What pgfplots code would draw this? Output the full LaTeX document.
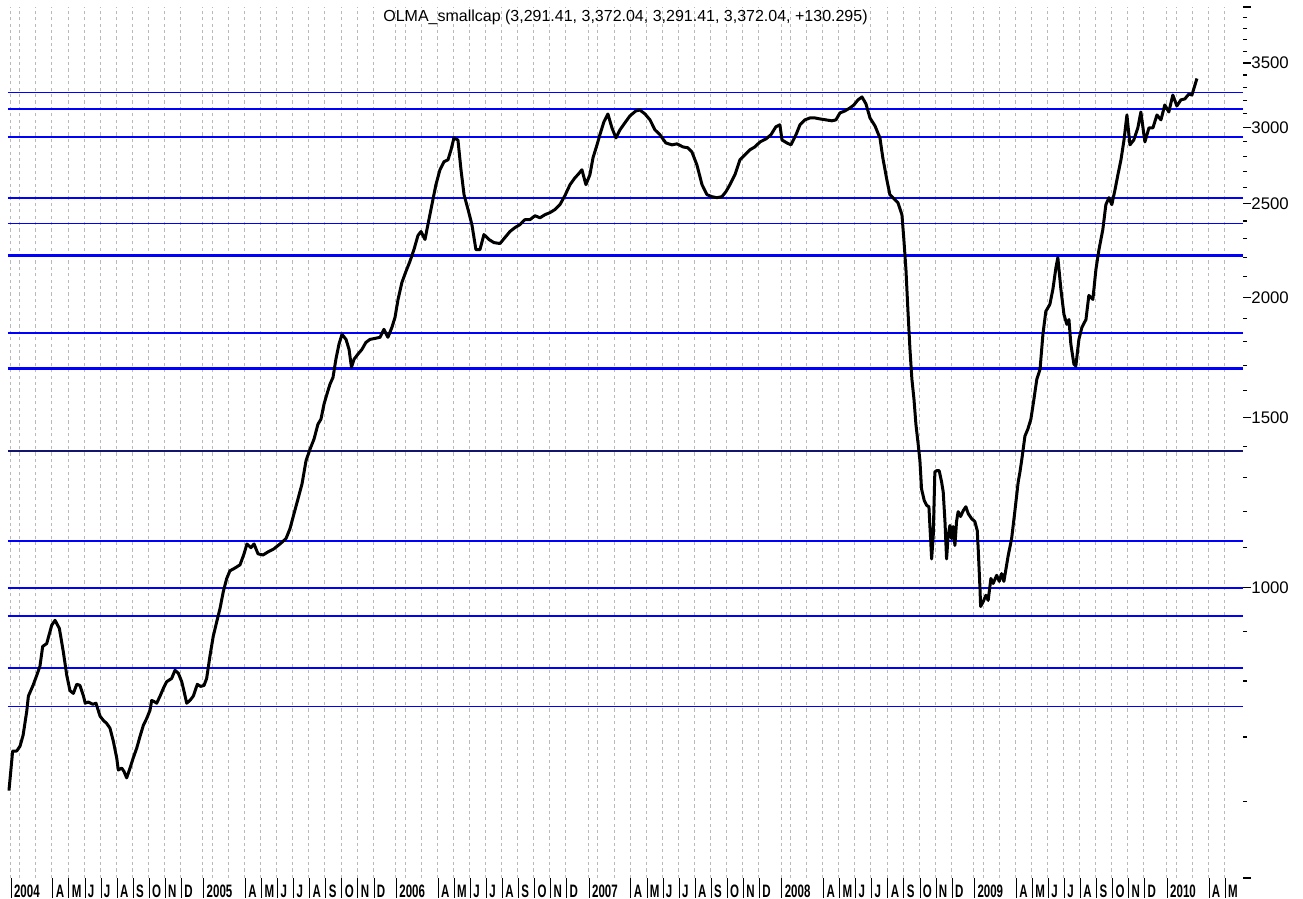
\documentclass[border=0pt]{standalone}
\usepackage{pgfplots}
\pgfplotsset{compat=1.18}
\usepackage{fontspec}
\setmainfont{Liberation Sans}
\newfontfamily\xlabfont[FakeStretch=0.64]{Liberation Sans}
\newcommand\xl[1]{\rule{0.5pt}{10pt}\hspace{1.2pt}#1}
\definecolor{gridgray}{RGB}{185,185,185}
\definecolor{darkline}{RGB}{20,20,110}
\begin{document}
\begin{tikzpicture}
\begin{axis}[
  at={(0,0)}, anchor=south west,
  scale only axis, width=617.5pt, height=435.5pt,
  xmin=0.26, xmax=77.17,
  ymode=log, ymin=500, ymax=4000,
  axis x line*=bottom, axis y line*=right,
  axis line style={draw=none},
  tick align=outside,
  major tick length=4pt, minor tick length=2pt,
  tick style={black, line width=0.6pt},
  xtick style={draw=none},
  xtick={0.4,3,4,5,6,7,8,9,10,11,
         12.4,15,16,17,18,19,20,21,22,23,
         24.4,27,28,29,30,31,32,33,34,35,
         36.4,39,40,41,42,43,44,45,46,47,
         48.4,51,52,53,54,55,56,57,58,59,
         60.4,63,64,65,66,67,68,69,70,71,
         72.4,75,76},
  xticklabels={\xl{2004},\xl{A},\xl{M},\xl{J},\xl{J},\xl{A},\xl{S},\xl{O},\xl{N},\xl{D},
               \xl{2005},\xl{A},\xl{M},\xl{J},\xl{J},\xl{A},\xl{S},\xl{O},\xl{N},\xl{D},
               \xl{2006},\xl{A},\xl{M},\xl{J},\xl{J},\xl{A},\xl{S},\xl{O},\xl{N},\xl{D},
               \xl{2007},\xl{A},\xl{M},\xl{J},\xl{J},\xl{A},\xl{S},\xl{O},\xl{N},\xl{D},
               \xl{2008},\xl{A},\xl{M},\xl{J},\xl{J},\xl{A},\xl{S},\xl{O},\xl{N},\xl{D},
               \xl{2009},\xl{A},\xl{M},\xl{J},\xl{J},\xl{A},\xl{S},\xl{O},\xl{N},\xl{D},
               \xl{2010},\xl{A},\xl{M}},
  minor xtick={1,2,13,14,25,26,37,38,49,50,61,62,73,74},
  xticklabel style={font=\xlabfont\bfseries\fontsize{9pt}{10pt}\selectfont, anchor=base west, inner sep=0pt, yshift=-6.0pt},
  xmajorgrids, xminorgrids,
  major grid style={gridgray, line width=0.5pt, dash pattern=on 1.6pt off 1.6pt},
  minor grid style={gridgray, line width=0.5pt, dash pattern=on 1.6pt off 1.6pt},
  ytick={500,1000,1500,2000,2500,3000,3500,4000},
  yticklabels={,1000,1500,2000,2500,3000,3500,},
  minor ytick={600,700,800,900,1100,1200,1300,1400,1600,1700,1800,1900,
               2100,2200,2300,2400,2600,2700,2800,2900,3100,3200,3300,3400,
               3600,3700,3800,3900},
  yticklabel style={font=\fontsize{8.4pt}{9pt}\selectfont, anchor=west, inner sep=0pt},
  title={OLMA\_smallcap (3,291.41, 3,372.04, 3,291.41, 3,372.04, +130.295)},
  title style={at={(0.5,1)}, anchor=base, yshift=-13.5pt, font=\fontsize{8pt}{9pt}\selectfont},
  clip=false,
]
% horizontal support / resistance lines
\addplot[blue, line width=0.9pt] coordinates {(0.26,3262) (77.17,3262)};
\addplot[blue, line width=0.9pt] coordinates {(0.26,3134) (77.17,3134)};
\addplot[blue, line width=0.9pt] coordinates {(0.26,2931) (77.17,2931)};
\addplot[blue, line width=0.9pt] coordinates {(0.26,2535) (77.17,2535)};
\addplot[blue, line width=0.9pt] coordinates {(0.26,2385) (77.17,2385)};
\addplot[blue, line width=1.3pt] coordinates {(0.26,2210) (77.17,2210)};
\addplot[blue, line width=0.9pt] coordinates {(0.26,1838) (77.17,1838)};
\addplot[blue, line width=1.3pt] coordinates {(0.26,1687) (77.17,1687)};
\addplot[darkline, line width=0.7pt] coordinates {(0.26,1386) (77.17,1386)};
\addplot[blue, line width=0.9pt] coordinates {(0.26,1118) (77.17,1118)};
\addplot[blue, line width=0.9pt] coordinates {(0.26,1000) (77.17,1000)};
\addplot[blue, line width=0.9pt] coordinates {(0.26,935) (77.17,935)};
\addplot[blue, line width=0.9pt] coordinates {(0.26,826) (77.17,826)};
\addplot[blue, line width=0.9pt] coordinates {(0.26,753) (77.17,753)};
% index
\addplot[black, line width=1.5pt, line join=round] table[x=m, y=v] {
m v
0.32 616
0.55 677
0.80 677
1.01 685
1.20 703
1.43 745
1.53 772
1.82 792
2.05 811
2.25 829
2.42 869
2.67 875
2.88 901
2.98 914
3.19 925
3.46 907
3.70 859
3.92 811
4.12 782
4.33 777
4.54 794
4.74 792
4.95 773
5.07 759
5.26 761
5.54 757
5.74 759
5.88 746
5.99 736
6.18 729
6.41 723
6.61 715
6.82 693
7.03 666
7.13 647
7.34 650
7.48 645
7.65 635
7.86 650
8.06 666
8.28 682
8.48 701
8.69 720
8.90 732
9.10 746
9.21 764
9.35 762
9.52 759
9.73 772
9.93 786
10.14 799
10.45 805
10.66 821
10.87 815
11.08 799
11.22 781
11.39 759
11.59 764
11.80 772
12.05 794
12.26 790
12.47 792
12.63 805
12.84 850
13.04 890
13.26 922
13.46 951
13.67 991
13.88 1022
14.08 1041
14.40 1048
14.71 1056
14.96 1084
15.14 1110
15.39 1100
15.58 1110
15.83 1084
16.14 1081
16.45 1089
16.82 1097
17.20 1110
17.57 1124
17.82 1151
18.07 1193
18.32 1236
18.57 1281
18.82 1354
19.07 1392
19.32 1426
19.56 1477
19.75 1495
19.94 1550
20.12 1587
20.31 1625
20.50 1652
20.68 1725
20.87 1788
21.06 1831
21.31 1809
21.50 1766
21.65 1692
21.81 1725
22.05 1746
22.30 1766
22.55 1796
22.80 1809
23.11 1813
23.43 1818
23.67 1853
23.92 1818
24.17 1862
24.36 1906
24.55 1990
24.79 2072
25.04 2127
25.29 2179
25.54 2241
25.79 2318
25.98 2340
26.23 2296
26.41 2379
26.66 2495
26.91 2617
27.16 2712
27.41 2764
27.66 2777
27.85 2844
28.03 2926
28.28 2912
28.47 2712
28.66 2555
28.91 2466
29.15 2379
29.40 2241
29.65 2241
29.90 2323
30.21 2296
30.52 2279
30.90 2274
31.21 2307
31.52 2340
31.83 2362
32.14 2379
32.45 2407
32.76 2407
33.08 2430
33.39 2418
33.70 2436
34.01 2448
34.32 2466
34.63 2495
34.94 2549
35.26 2617
35.57 2661
35.75 2680
36.00 2712
36.25 2617
36.50 2680
36.69 2790
36.94 2878
37.12 2948
37.37 3041
37.62 3098
37.87 2997
38.12 2926
38.37 2983
38.68 3034
38.99 3084
39.36 3121
39.61 3128
39.93 3098
40.24 3055
40.55 2983
40.86 2948
41.23 2891
41.61 2878
41.92 2885
42.29 2864
42.60 2858
42.85 2830
43.16 2744
43.48 2617
43.79 2555
44.10 2543
44.41 2537
44.72 2543
44.97 2574
45.22 2617
45.53 2680
45.84 2777
46.15 2810
46.46 2844
46.77 2864
47.09 2898
47.46 2919
47.77 2948
48.08 3005
48.33 3019
48.46 2912
48.77 2891
49.02 2878
49.33 2948
49.58 3019
49.89 3055
50.20 3069
50.51 3069
50.82 3062
51.20 3055
51.57 3048
51.82 3055
52.07 3106
52.38 3121
52.69 3143
52.94 3166
53.19 3204
53.44 3227
53.69 3174
53.94 3069
54.25 3012
54.56 2926
54.74 2790
54.99 2648
55.18 2555
55.43 2531
55.68 2507
55.93 2436
56.05 2296
56.18 2137
56.30 1943
56.43 1766
56.55 1645
56.68 1568
56.80 1477
56.94 1409
57.05 1354
57.15 1266
57.32 1231
57.47 1217
57.61 1213
57.67 1160
57.78 1071
57.88 1133
57.98 1318
58.09 1322
58.25 1322
58.40 1287
58.50 1257
58.61 1171
58.71 1071
58.81 1133
58.92 1160
59.02 1124
59.12 1157
59.23 1106
59.33 1171
59.43 1199
59.58 1185
59.75 1202
59.91 1213
60.06 1193
60.27 1179
60.47 1171
60.62 1146
60.68 1097
60.79 998
60.83 956
60.99 967
61.16 982
61.30 970
61.47 1022
61.61 1010
61.83 1030
61.99 1015
62.14 1034
62.28 1015
62.55 1080
62.76 1124
62.96 1199
63.17 1287
63.28 1318
63.40 1360
63.59 1436
63.77 1460
63.96 1495
64.15 1568
64.33 1645
64.53 1684
64.71 1831
64.89 1934
65.14 1966
65.33 2038
65.52 2147
65.64 2199
65.83 2038
66.02 1920
66.20 1875
66.33 1897
66.45 1788
66.64 1705
66.76 1697
66.95 1809
67.14 1862
67.39 1897
67.57 2009
67.82 1990
68.01 2137
68.20 2241
68.44 2351
68.63 2495
68.82 2537
69.00 2495
69.20 2586
69.38 2680
69.57 2777
69.76 2912
69.94 3091
70.13 2878
70.37 2912
70.62 2997
70.81 3113
71.06 2898
71.31 2997
71.56 2997
71.81 3091
72.06 3055
72.30 3166
72.55 3113
72.80 3242
73.05 3158
73.30 3204
73.55 3212
73.80 3250
73.99 3242
74.30 3372
};
\end{axis}
\pgfresetboundingbox
\path[use as bounding box] (-4pt,-10.5pt) rectangle (647.5pt,439pt);
\end{tikzpicture}
\end{document}
